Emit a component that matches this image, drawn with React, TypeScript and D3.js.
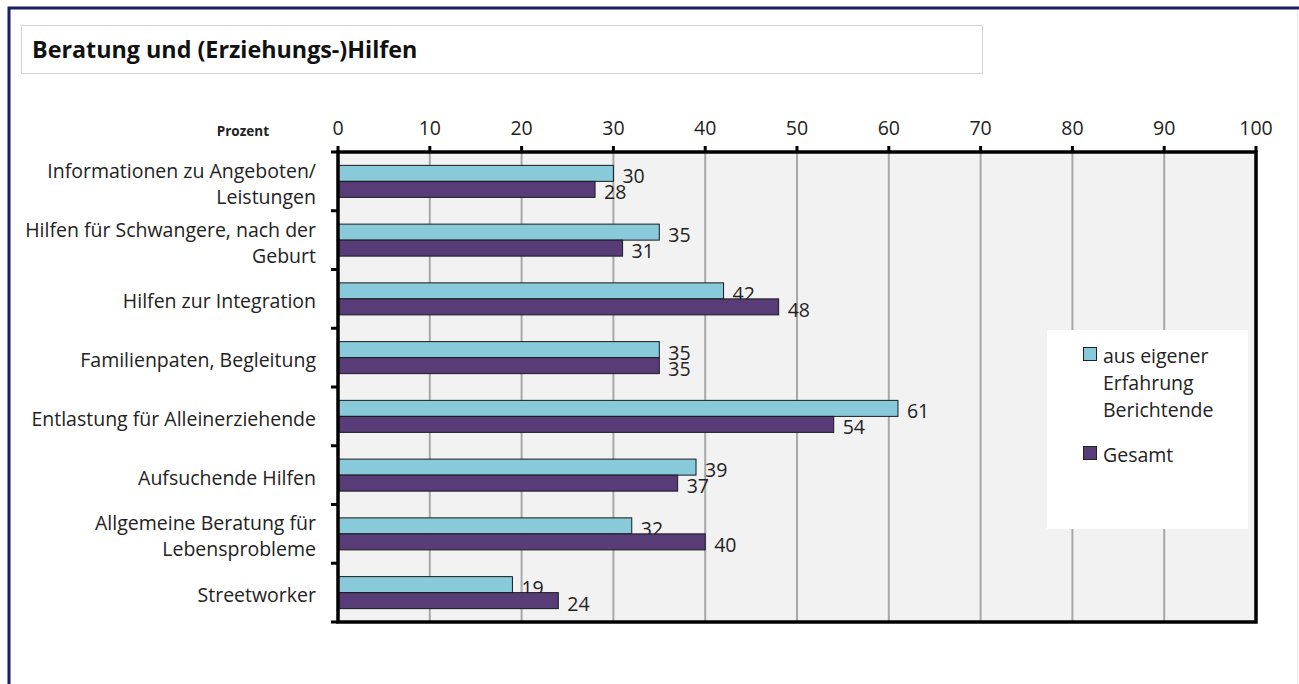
import React from "react";
import * as d3 from "d3";

const categories = [
  "Informationen zu Angeboten/\nLeistungen",
  "Hilfen für Schwangere, nach der\nGeburt",
  "Hilfen zur Integration",
  "Familienpaten, Begleitung",
  "Entlastung für Alleinerziehende",
  "Aufsuchende Hilfen",
  "Allgemeine Beratung für\nLebensprobleme",
  "Streetworker",
];
const eigeneErfahrung = [30, 35, 42, 35, 61, 39, 32, 19];
const gesamt = [28, 31, 48, 35, 54, 37, 40, 24];
const seriesNames = ["aus eigener\nErfahrung\nBerichtende", "Gesamt"];
const seriesColors = ["#88c9da", "#573c77"];
const xTicks = [0, 10, 20, 30, 40, 50, 60, 70, 80, 90, 100];

const W = 1299;
const H = 684;
const FONT = "'Open Sans', sans-serif";
const FS = 19.5;

export default function App() {
  const x = d3.scaleLinear().domain([0, 100]).range([338, 1256]);
  const y = d3
    .scaleBand<string>()
    .domain(categories)
    .range([152, 622])
    .paddingInner(0.455)
    .paddingOuter(0.2275);
  const inner = d3
    .scaleBand<number>()
    .domain([0, 1])
    .range([0, y.bandwidth()]);
  const series = [eigeneErfahrung, gesamt];
  const [top, bottom] = y.range();
  const step = y.step();

  return (
    <div style={{ position: "absolute", left: 0, top: 0 }}>
      <svg width={W} height={H} style={{ display: "block", background: "#fff" }}>
        {/* outer frame */}
        <rect x={9} y={8} width={1400} height={900} fill="none" stroke="#1d1d6a" strokeWidth={3} />
        <line x1={1297.5} y1={10} x2={1297.5} y2={H} stroke="#e6e6e6" strokeWidth={1} />
        {/* title box */}
        <rect x={21.5} y={25.5} width={961} height={48} fill="#fff" stroke="#d4d4d4" strokeWidth={1} />
        <text x={32} y={57.5} fontFamily={FONT} fontWeight={700} fontSize={23.3} fill="#111">
          Beratung und (Erziehungs-)Hilfen
        </text>

        {/* plot background */}
        <rect x={x(0)} y={top} width={x(100) - x(0)} height={bottom - top} fill="#f2f2f2" />
        {/* grid */}
        {xTicks.slice(1, -1).map((t) => (
          <line key={t} x1={x(t)} x2={x(t)} y1={top} y2={bottom} stroke="#a8a8a8" strokeWidth={2} />
        ))}

        {/* bars */}
        {categories.map((c, i) =>
          series.map((s, j) => {
            const by = (y(c) as number) + (inner(j) as number);
            const bh = inner.bandwidth();
            return (
              <g key={c + j}>
                <rect
                  x={x(0)}
                  y={by}
                  width={x(s[i]) - x(0)}
                  height={bh}
                  fill={seriesColors[j]}
                  stroke="#1a1a1a"
                  strokeWidth={1}
                />
                <text
                  x={x(s[i]) + 9}
                  y={by + bh / 2 + 2.5}
                  dominantBaseline="central"
                  fontFamily={FONT}
                  fontSize={FS}
                  fill="#222"
                >
                  {s[i]}
                </text>
              </g>
            );
          })
        )}

        {/* legend */}
        <rect x={1047} y={330} width={201} height={199} fill="#fff" />
        {seriesNames.map((n, j) => {
          const ly = j === 0 ? 347 : 446;
          return (
            <g key={n}>
              <rect x={1083.5} y={ly + 0.5} width={13} height={13} fill={seriesColors[j]} stroke="#222" strokeWidth={1} />
              {n.split("\n").map((line, k) => (
                <text
                  key={k}
                  x={1103}
                  y={ly + 8 + k * 27}
                  dominantBaseline="central"
                  fontFamily={FONT}
                  fontSize={FS}
                  fill="#222"
                >
                  {line}
                </text>
              ))}
            </g>
          );
        })}

        {/* plot frame */}
        <rect x={x(0)} y={top} width={x(100) - x(0)} height={bottom - top} fill="none" stroke="#000" strokeWidth={3.5} />
        {/* top ticks */}
        {xTicks.map((t) => (
          <g key={t}>
            <line x1={x(t)} x2={x(t)} y1={top - 6} y2={top} stroke="#000" strokeWidth={3} />
            <text
              x={x(t)}
              y={127}
              textAnchor="middle"
              dominantBaseline="central"
              fontFamily={FONT}
              fontSize={FS}
              fill="#222"
            >
              {t}
            </text>
          </g>
        ))}
        {/* left ticks */}
        {d3.range(categories.length + 1).map((k) => (
          <line
            key={k}
            x1={x(0) - 7}
            x2={x(0)}
            y1={top + k * step}
            y2={top + k * step}
            stroke="#000"
            strokeWidth={3}
          />
        ))}
        <text x={269} y={131} textAnchor="end" dominantBaseline="central" fontFamily={FONT} fontWeight={700} fontSize={13.5} fill="#222">
          Prozent
        </text>
        {/* category labels */}
        {categories.map((c) => {
          const lines = c.split("\n");
          const cy = (y(c) as number) + y.bandwidth() / 2;
          return lines.map((line, k) => (
            <text
              key={c + k}
              x={316}
              y={cy + (k - (lines.length - 1) / 2) * 26 + 2}
              textAnchor="end"
              dominantBaseline="central"
              fontFamily={FONT}
              fontSize={FS}
              fill="#222"
            >
              {line}
            </text>
          ));
        })}
      </svg>
    </div>
  );
}
